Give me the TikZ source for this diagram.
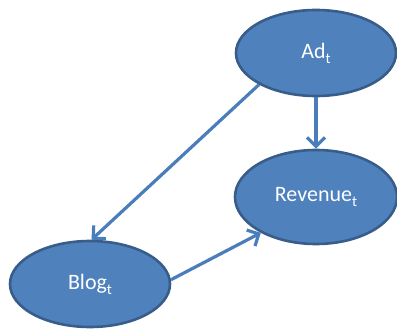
\documentclass[tikz,border=0pt]{standalone}
\usepackage{fontspec}
\setmainfont{Carlito}
\usetikzlibrary{shapes.geometric,arrows.meta}
\definecolor{nodefill}{HTML}{4F81BD}
\definecolor{nodeedge}{HTML}{385D8A}
\definecolor{linkcol}{HTML}{4A7EBB}
% lowered, smaller index letter
\newcommand{\idx}[1]{\raisebox{-5pt}{\fontsize{15}{15}\selectfont #1}}
\tikzset{
  bubble/.style={ellipse, draw=nodeedge, fill=nodefill, line width=2.6pt,
    inner sep=0pt, text=white, font=\fontsize{22}{25}\selectfont},
  link/.style={draw=linkcol, line width=3.2pt,
    -{Straight Barb[length=9pt,width=18pt,line width=3.2pt]}}
}
\begin{document}
\begin{tikzpicture}[x=1pt,y=-1pt]
  \useasboundingbox (0,0) rectangle (397,329);
  \node[bubble, minimum width=160pt, minimum height=86pt] (ad) at (316,53) {Ad\idx{t}};
  \node[bubble, minimum width=162pt, minimum height=94pt] (rev) at (316,197) {Revenue\idx{t}};
  \node[bubble, minimum width=160pt, minimum height=86pt] (blog) at (90,284) {Blog\idx{t}};
  \draw[link] (ad.south) -- (rev.north);
  \draw[link] (ad.209) -- (blog.88);
  \draw[link] (blog.3) -- (rev.213);
\end{tikzpicture}
\end{document}
